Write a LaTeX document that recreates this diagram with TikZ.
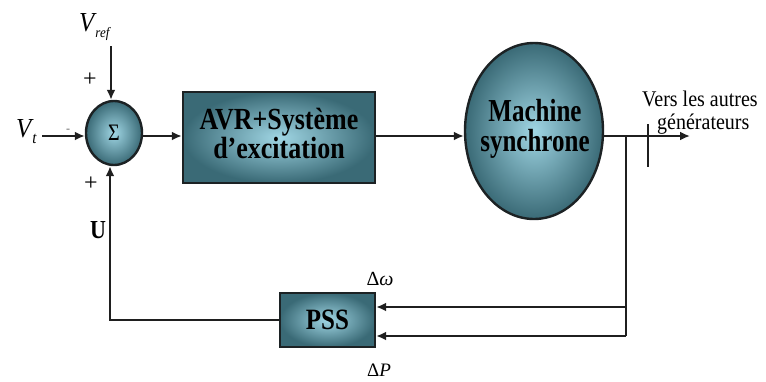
\documentclass[tikz,border=0pt]{standalone}
\usepackage{fontspec}
\setmainfont{Liberation Serif}
\usetikzlibrary{arrows.meta,shapes.geometric}
\definecolor{blockin}{RGB}{160,214,228}
\definecolor{blockout}{RGB}{58,106,118}
\definecolor{edge}{RGB}{28,34,36}
% text slightly stretched vertically
\newcommand\tallbox[2][1.18]{\scalebox{1}[#1]{\begin{tabular}{@{}c@{}}#2\end{tabular}}}
\newcommand\tallone[2][1.18]{\scalebox{1}[#1]{#2}}
\tikzset{
  blk/.style={draw=edge,line width=2.4pt,inner color=blockin,outer color=blockout,
    align=center,inner sep=0pt},
  wire/.style={line width=2pt,draw=black!88},
  arr/.style={wire,-{Latex[length=10pt,width=9pt]}},
  lbl/.style={inner sep=0pt}
}
\begin{document}
\begin{tikzpicture}[x=1pt,y=-1pt]
\useasboundingbox (0,0) rectangle (766,381);
% summing junction
\node[blk,ellipse,minimum width=56pt,minimum height=64pt,font=\fontsize{20}{20}\selectfont] (sum) at (114,133) {\tallone{Σ}};
% exciter block
\node[blk,rectangle,minimum width=192pt,minimum height=91pt,font=\bfseries\fontsize{26}{27}\selectfont] (avr) at (279,137.5) {\tallbox{AVR+Système\\[-2pt]d’excitation}};
% machine: shape and its caption
\node[blk,ellipse,minimum width=138pt,minimum height=176pt] (mach) at (534,131) {};
\node[lbl,font=\bfseries\fontsize{25}{24}\selectfont] (machtxt) at (535,130) {\tallbox[1.28]{Machine\\[-1pt]synchrone}};
% stabilizer
\node[blk,rectangle,minimum width=95pt,minimum height=54pt,font=\bfseries\fontsize{25}{25}\selectfont] (pss) at (327.5,320) {\tallone{PSS}};

% inputs
\node[lbl,anchor=base west,font=\itshape\fontsize{25}{25}\selectfont] (vref) at (79,31) {\tallone[1.1]{V\kern1pt\raisebox{-6pt}{\fontsize{13}{13}\selectfont ref}}};
\node[lbl,anchor=base west,font=\itshape\fontsize{25}{25}\selectfont] (vt) at (16,137) {\tallone[1.1]{V\kern1pt\raisebox{-6pt}{\fontsize{15}{15}\selectfont t}}};
\coordinate (vrefs) at (111,46);
\coordinate (vts) at (42,136);
\draw[arr] (vrefs) -- (vrefs |- sum.north);
\draw[arr] (vts) -- (vts -| sum.west);
\node[lbl,font=\fontsize{24}{24}\selectfont] (p1) at (90,80) {+};
\node[lbl,font=\fontsize{24}{24}\selectfont] (p2) at (91,184) {+};
\node[lbl,font=\fontsize{12}{12}\selectfont,text=black!60] (m1) at (68,131) {-};

% forward path
\coordinate (mainy) at (0,136);
\draw[arr] (sum.east |- mainy) -- (avr.west |- mainy);
\draw[arr] (avr.east |- mainy) -- (mach.west |- mainy);
\coordinate (out) at (690,136);
\draw[arr] (mach.east |- mainy) -- (out);
\coordinate (ta) at (648,124);
\coordinate (tb) at (648,167);
\draw[wire] (ta) -- (tb);
\node[lbl,anchor=base west,font=\fontsize{20}{21}\selectfont] (vers) at (642,106) {\tallone[1.12]{Vers les autres}};
\node[lbl,anchor=base west,font=\fontsize{20}{21}\selectfont] (gen) at (657,129) {\tallone[1.12]{générateurs}};

% measurement taps to the stabilizer
\coordinate (br) at (626,136);
\coordinate (bb) at (626,336);
\coordinate (bw) at (626,307);
\draw[wire] (br) -- (bb);
\draw[arr] (bw) -- (pss.east |- bw);
\draw[arr] (bb) -- (pss.east |- bb);
\node[lbl,font=\fontsize{20}{20}\selectfont] (dw) at (380,279) {Δ\itshape ω};
\node[lbl,font=\fontsize{19}{19}\selectfont] (dp) at (379,370) {Δ\itshape P};

% stabilizer output back to the junction
\coordinate (corner) at (110,320);
\draw[arr] (pss.west) -- (corner) -- (corner |- sum.south);
\node[lbl,font=\bfseries\fontsize{22}{22}\selectfont] (u) at (98,230) {\tallone{U}};
\end{tikzpicture}
\end{document}
